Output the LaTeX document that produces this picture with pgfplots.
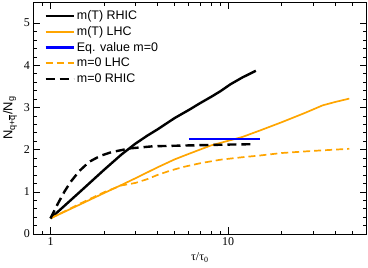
\documentclass[border=0pt]{standalone}
\usepackage{fontspec}
\setmainfont{Liberation Serif}
\setsansfont{Liberation Sans}
\usepackage{pgfplots}
\pgfplotsset{compat=1.18}
\definecolor{gorange}{HTML}{FFA500}
\definecolor{gblue}{HTML}{0000FF}
\begin{document}
\begin{tikzpicture}
\useasboundingbox (-33.3bp,-34bp) rectangle (334.7bp,234bp);
\begin{axis}[
 at={(0,0)}, anchor=south west,
 scale only axis, width=333.2bp, height=232bp,
 xmode=log, xmin=0.8, xmax=60, ymin=0, ymax=5.5,
 xtick={1,10}, xticklabels={1,10},
 minor xtick={0.9,2,3,4,5,6,7,8,9,20,30,40,50},
 ytick={0,1,2,3,4,5}, minor y tick num=4,
 tick align=inside, xtick pos=both, ytick pos=both,
 major tick length=7bp, minor tick length=3.5bp,
 every tick/.style={black, line width=0.6bp},
 axis line style={line width=0.8bp},
 tick label style={font=\fontsize{12}{14}\selectfont},
 /pgf/number format/assume math mode=true,
 xlabel={τ/τ\textsubscript{0}},
 xlabel style={font=\fontsize{12}{14}\selectfont},
 ylabel={N\textsubscript{q+$\overline{\mbox{q}}$}/N\textsubscript{g}},
 ylabel style={font=\fontsize{13}{15}\selectfont\sffamily},
 legend cell align=left,
 legend image code/.code={\draw[#1, line cap=butt] (0bp,0bp) -- (28bp,0bp);},
 legend style={at={(rel axis cs:0,1)}, anchor=north west, xshift=8bp, yshift=-5.5bp,
   draw=none, fill=none, font=\fontsize{12.5}{15}\selectfont\sffamily,
   row sep=2.7bp, nodes={text height=10bp, text depth=3bp, inner ysep=0bp}},
]
\addplot[black, line width=2.4bp] coordinates {
(1,0.37)(1.5,1.04)(2,1.52)(2.5,1.88)(3,2.14)(3.5,2.33)(4,2.48)(5,2.75)(6,2.94)(7,3.11)(8,3.25)(9,3.38)(10.3,3.55)(12,3.71)(14.3,3.87)};
\addlegendentry{m(T) RHIC}
\addplot[gorange, line width=1.7bp] coordinates {
(1,0.37)(1.5,0.72)(2,0.97)(2.5,1.16)(3,1.32)(4,1.58)(5,1.77)(6,1.9)(8,2.1)(10,2.21)(12,2.3)(15,2.45)(20,2.65)(27,2.87)(34,3.05)(40,3.13)(48,3.21)};
\addlegendentry{m(T) LHC}
\addplot[gblue, line width=2.4bp] coordinates {(6,2.25)(15.1,2.25)};
\addlegendentry{Eq. value m=0}
\addplot[gorange, line width=1.7bp, dash pattern=on 7bp off 4bp] coordinates {
(1,0.37)(1.5,0.74)(2,0.99)(2.5,1.15)(3,1.21)(3.5,1.3)(4,1.4)(4.7,1.5)(5.6,1.59)(7,1.68)(9,1.76)(12,1.82)(15,1.86)(20,1.92)(30,1.97)(48,2.02)};
\addlegendentry{m=0 LHC}
\addplot[black, line width=2.4bp, dash pattern=on 9bp off 5bp] coordinates {
(1,0.37)(1.1,0.72)(1.2,1.01)(1.3,1.24)(1.45,1.49)(1.65,1.71)(1.9,1.85)(2.2,1.94)(2.8,2.03)(3.78,2.08)(6,2.1)(10,2.12)(14.2,2.13)};
\addlegendentry{m=0 RHIC}
\end{axis}
\end{tikzpicture}
\end{document}
